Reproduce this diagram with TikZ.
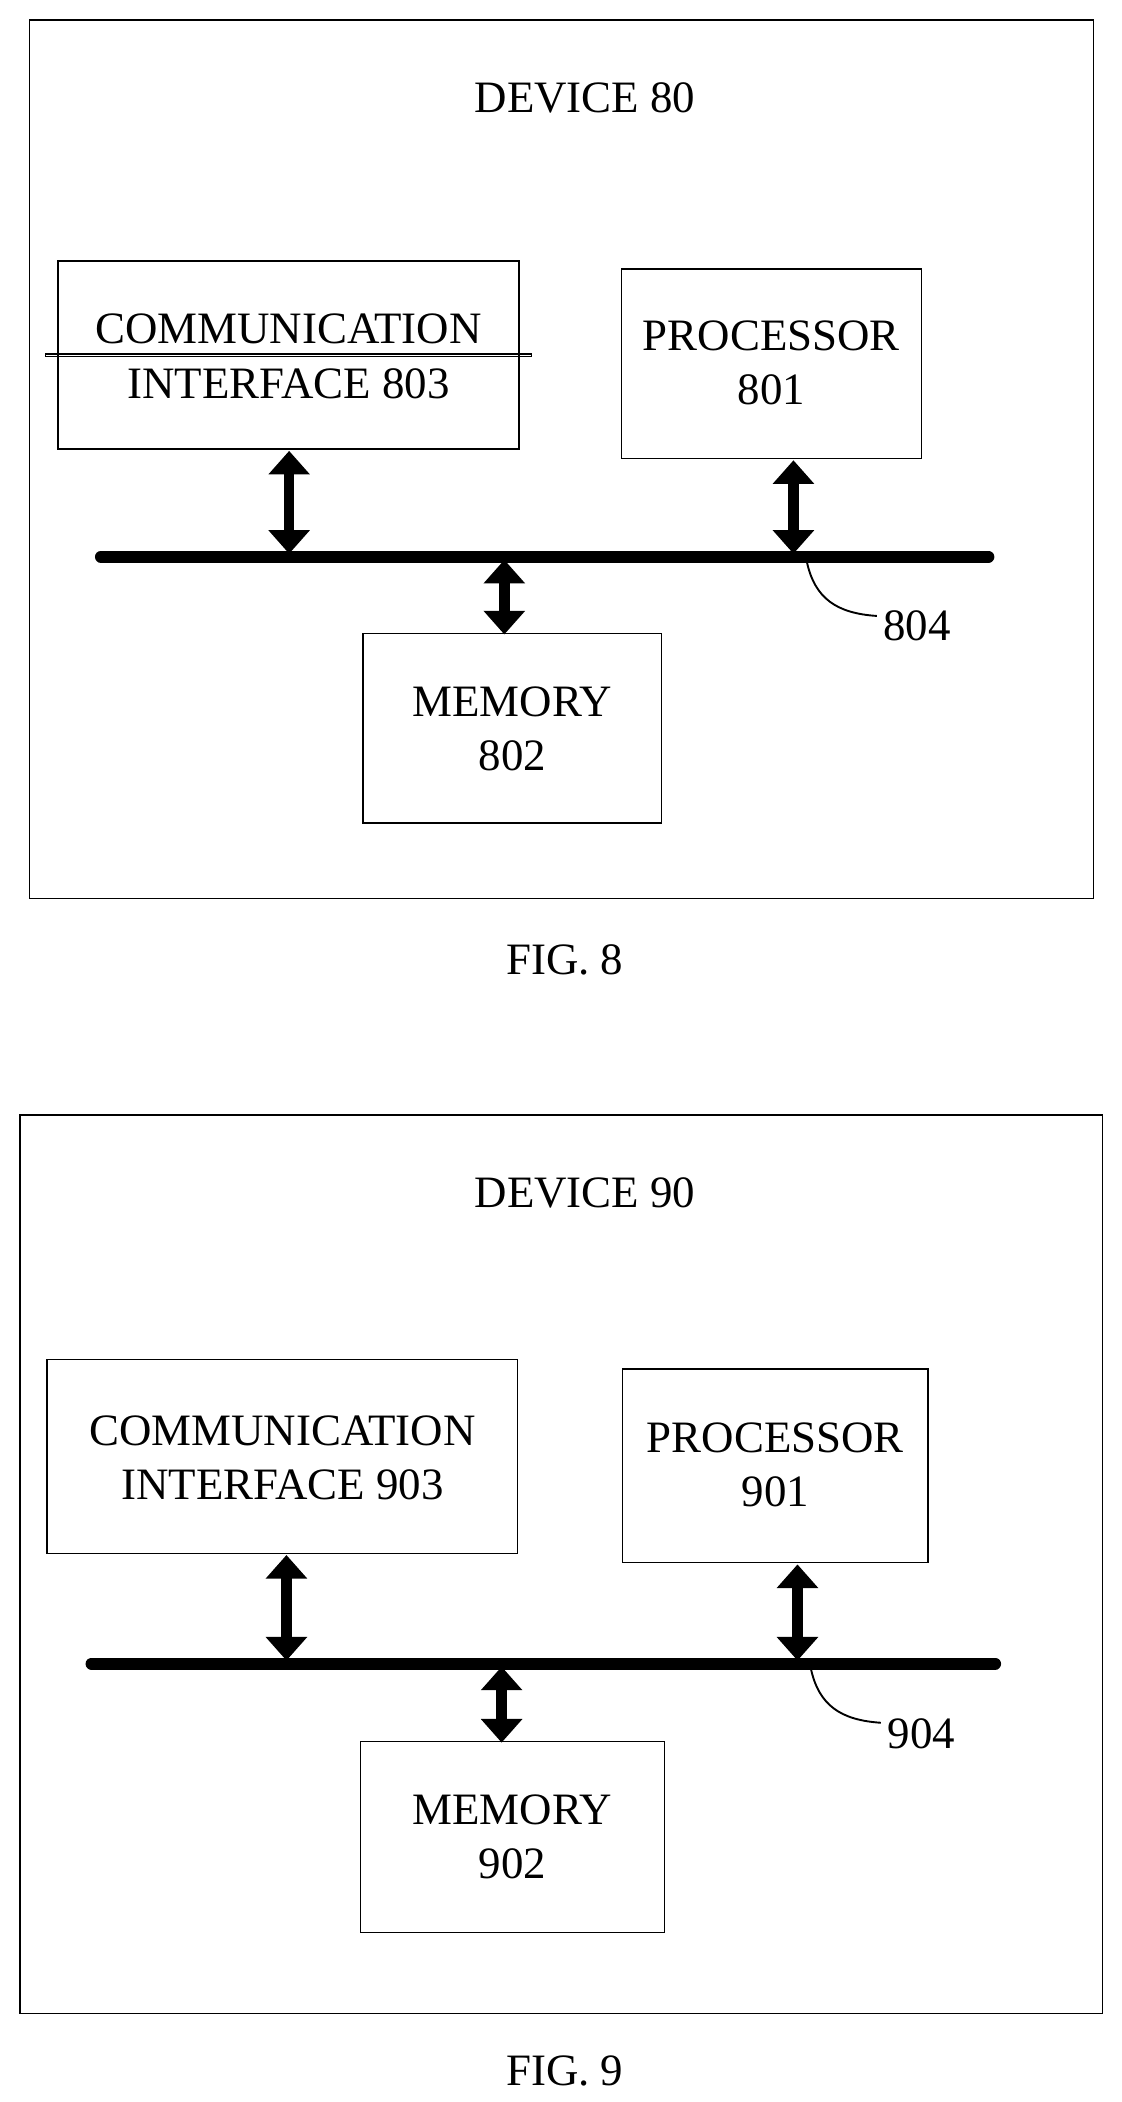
\documentclass[tikz,border=0pt]{standalone}
\usepackage{fontspec}
\setmainfont{Liberation Serif}
\usetikzlibrary{positioning,arrows.meta}
\begin{document}
\begin{tikzpicture}[x=0.02cm,y=-0.02cm,font=\fontsize{19}{23}\selectfont]
\tikzstyle{blk}=[draw,line width=0.6pt,align=center,inner sep=0pt]
\tikzstyle{bus}=[line width=5pt,line cap=round]
\tikzstyle{dbl}=[line width=4.5pt,{Triangle[width=17pt,length=10pt]}-{Triangle[width=17pt,length=10pt]},shorten <=-1pt,shorten >=-1pt]
\useasboundingbox (0,0) rectangle (834,1563);
% FIG. 8
\draw [line width=0.6pt] (22,15) rectangle (813,668);
\node (dev8) at (435,73) {DEVICE 80};
\node [blk,minimum width=343\pgflinewidth] (comm8) at (214.5,264) {};
\draw [line width=0.6pt] (43,194) rectangle (386,334);
\node [align=center] at (214.5,265) {COMMUNICATION\\INTERFACE 803};
\draw [line width=0.6pt] (462,200) rectangle (685,341);
\node [align=center] (proc8) at (573.5,270) {PROCESSOR\\801};
\draw [line width=0.6pt] (270,471) rectangle (492,612);
\node [align=center] (mem8) at (381,542) {MEMORY\\802};
\draw [bus] (75,414) -- (735,414);
\coordinate (b8a) at (215,410); \coordinate (b8b) at (590,410); \coordinate (b8c) at (375,418);
\draw [dbl] (215,337) -- (b8a);
\draw [dbl] (590,344) -- (b8b);
\draw [dbl] (b8c) -- (375,470);
\node (l804) at (682,465) {804};
\draw [line width=0.8pt] (600,418) .. controls (606,445) and (622,456) .. (652,458);
\node (fig8) at (420,714) {FIG. 8};
% FIG. 9
\draw [line width=0.6pt] (15,829) rectangle (820,1497);
\node (dev9) at (435,887) {DEVICE 90};
\draw [line width=0.6pt] (35,1011) rectangle (385,1155);
\node [align=center] (comm9) at (210,1084) {COMMUNICATION\\INTERFACE 903};
\draw [line width=0.6pt] (463,1018) rectangle (690,1162);
\node [align=center] (proc9) at (576.5,1089) {PROCESSOR\\901};
\draw [line width=0.6pt] (268,1295) rectangle (494,1437);
\node [align=center] (mem9) at (381,1366) {MEMORY\\902};
\draw [bus] (68,1237) -- (740,1237);
\coordinate (b9a) at (213,1233); \coordinate (b9b) at (593,1233); \coordinate (b9c) at (373,1241);
\draw [dbl] (213,1158) -- (b9a);
\draw [dbl] (593,1165) -- (b9b);
\draw [dbl] (b9c) -- (373,1294);
\node (l904) at (685,1289) {904};
\draw [line width=0.8pt] (603,1241) .. controls (609,1268) and (625,1279) .. (655,1281);
\node (fig9) at (420,1540) {FIG. 9};
\end{tikzpicture}
\end{document}
